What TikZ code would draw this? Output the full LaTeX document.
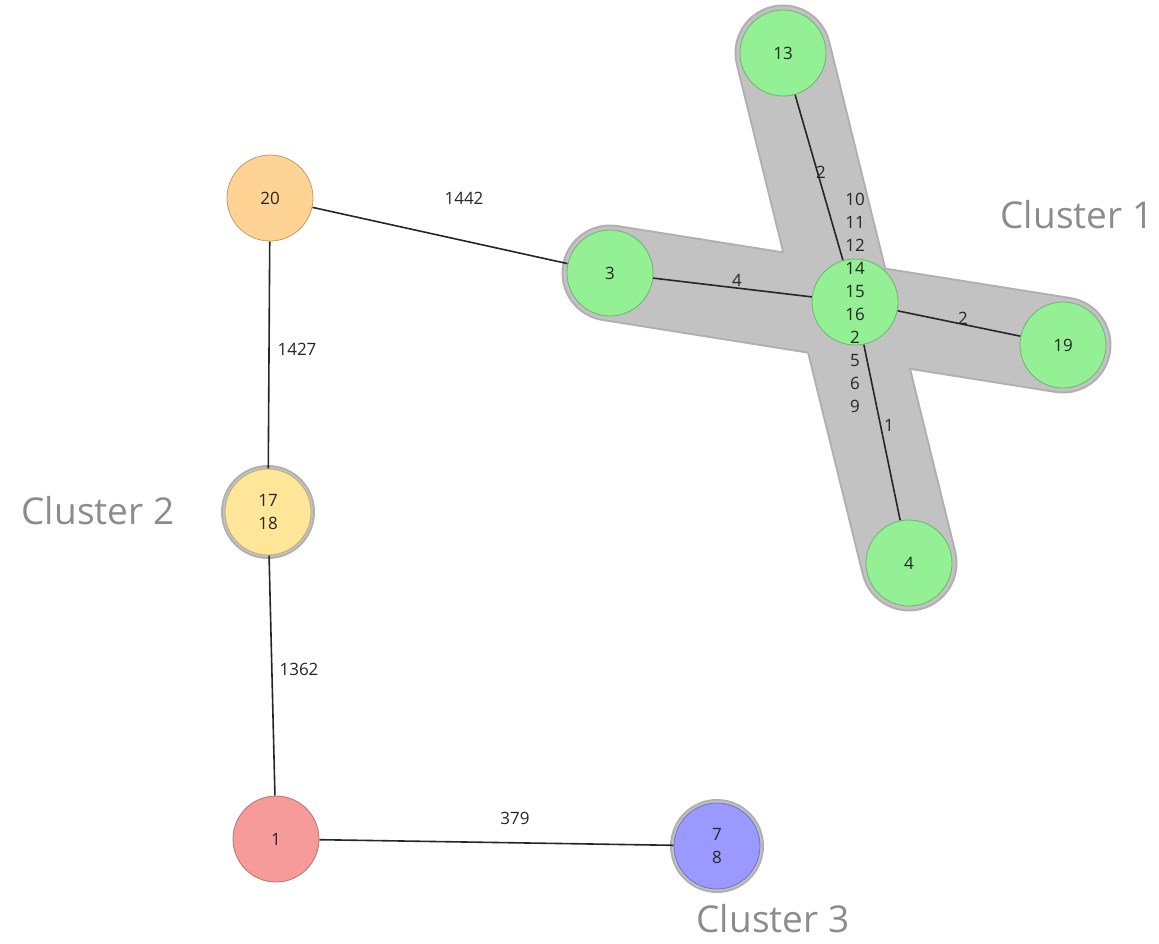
\documentclass[tikz,border=0pt]{standalone}
\usepackage{fontspec}
\setmainfont{Open Sans}
\usetikzlibrary{backgrounds}
\definecolor{clgreen}{HTML}{94F094}
\definecolor{clorange}{HTML}{FFD393}
\definecolor{clyellow}{HTML}{FFE699}
\definecolor{clred}{HTML}{F79A9A}
\definecolor{clblue}{HTML}{9999FF}
\definecolor{hullfill}{HTML}{C2C2C2}
\definecolor{hullrim}{HTML}{B0B0B0}

\begin{document}
\begin{tikzpicture}[x=1pt, y=-1pt,
  every node/.style = {font=\fontsize{17}{23}\selectfont, text=black!85},
  vertex/.style = {circle, draw=#1!75!black, fill=#1, line width=0.8pt,
                   minimum size=86pt, inner sep=0pt, align=center},
  hullrimline/.style = {draw=hullrim, line width=97pt, line cap=round},
  hullline/.style = {draw=hullfill, line width=93pt, line cap=round},
  link/.style = {draw=black!85, line width=1.6pt},
  cluster/.style = {font=\fontsize{37}{40}\selectfont, text=black!45}
  ]
  \useasboundingbox (0,0) rectangle (1159,943);

  % cluster 1
  \node[vertex=clgreen] (n13) at (783,53) {13};
  \node[vertex=clgreen] (n3) at (610,273) {3};
  \node[vertex=clgreen] (n10) at (855,302) {};
  \node[align=center] (n10text) at (855,303) {10\\11\\12\\14\\15\\16\\2\\5\\6\\9};
  \node[vertex=clgreen] (n19) at (1063,345) {19};
  \node[vertex=clgreen] (n4) at (909,563) {4};
  % the rest
  \node[vertex=clorange] (n20) at (270,198) {20};
  \node[vertex=clyellow] (n17) at (268,512) {17\\18};
  \node[vertex=clred] (n1) at (276,839) {1};
  \node[vertex=clblue] (n7) at (717,846) {7\\8};

  \begin{scope}[on background layer]
    \draw[hullrimline] (n13.center) -- (n4.center);
    \draw[hullrimline] (n3.center) -- (n19.center);
    \fill[hullrim] (n17.center) circle (47);
    \fill[hullrim] (n7.center) circle (47);
    \draw[hullline] (n13.center) -- (n4.center);
    \draw[hullline] (n3.center) -- (n19.center);
    \fill[hullfill] (n17.center) circle (45);
    \fill[hullfill] (n7.center) circle (45);

    \draw[link] (n20) -- (n3);
    \draw[link] (n20) -- (n17);
    \draw[link] (n17) -- (n1);
    \draw[link] (n1) -- (n7);
    \draw[link] (n3) -- (n10);
    \draw[link] (n13) -- (n10);
    \draw[link] (n10) -- (n19);
    \draw[link] (n10) -- (n4);
  \end{scope}

  % edge labels
  \node (w20x3) at (464,198) {1442};
  \node (w20x17) at (297,349) {1427};
  \node (w17x1) at (299,669) {1362};
  \node (w1x7) at (515,818) {379};
  \node (w3x10) at (737,280) {4};
  \node (w13x10) at (821,172) {2};
  \node (w10x19) at (963,318) {2};
  \node (w10x4) at (889,425) {1};

  \node[cluster] (c1) at (1077,215) {Cluster 1};
  \node[cluster] (c2) at (98,511) {Cluster 2};
  \node[cluster] (c3) at (773,919) {Cluster 3};
\end{tikzpicture}
\end{document}
